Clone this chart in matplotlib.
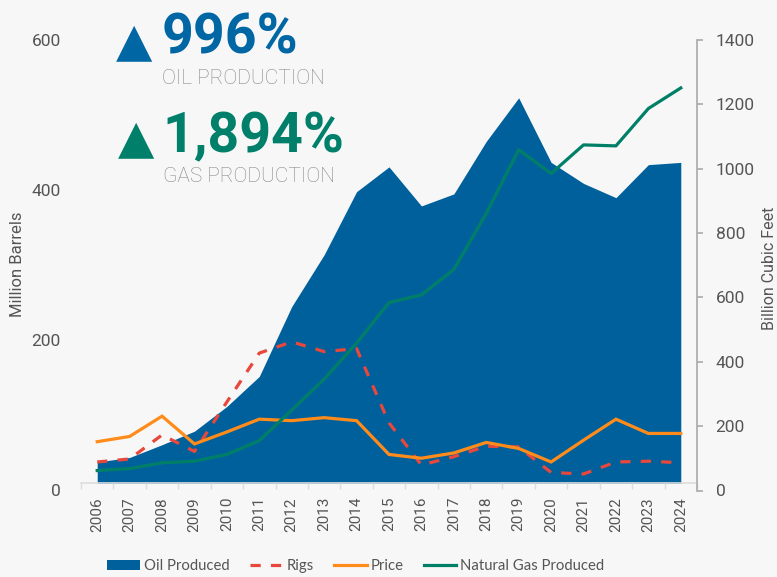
import matplotlib
matplotlib.use("Agg")
import matplotlib.pyplot as plt
from matplotlib.patches import Rectangle
from matplotlib.lines import Line2D
from matplotlib.patches import Patch
import numpy as np

years = [str(y) for y in range(2006, 2025)]
oil_produced = [38, 44, 61, 79, 112, 152, 245, 314, 398, 431, 379, 395, 465, 523, 437, 409, 390, 434, 437]
rigs = [38, 42, 74, 52, 118, 183, 198, 185, 189, 90, 34, 45, 59, 58, 24, 22, 38, 39, 37]
price = [65, 72, 99, 62, 78, 95, 93, 97, 93, 48, 43, 50, 64, 56, 38, 67, 95, 76, 76]
gas_produced = [62, 68, 86, 91, 112, 155, 250, 346, 458, 584, 608, 687, 861, 1059, 985, 1074, 1071, 1187, 1251]
left_ticks = [0, 200, 400, 600]
right_ticks = [0, 200, 400, 600, 800, 1000, 1200, 1400]

BG = "#F7F7F7"
C_OIL = "#00609C"
C_RIGS = "#E8483C"
C_PRICE = "#FF8C1A"
C_GAS = "#007F68"
C_TXT = "#555555"

W, H = 777, 577
fig = plt.figure(figsize=(W / 100, H / 100), dpi=100, facecolor=BG)

def fx(px):
    return px / W

def fy(py):
    return 1 - py / H

ax_left, ax_right, ax_top, ax_bot = 81, 697, 40, 490.5
ax = fig.add_axes([fx(ax_left), fy(ax_bot), (ax_right - ax_left) / W, (ax_bot - ax_top) / H])
ax.set_facecolor("none")
x = np.arange(len(years))

spine_frac = (ax_bot - 483) / (ax_bot - ax_top)

area = ax.fill_between(x, oil_produced, 0, color=C_OIL, lw=0, zorder=1)
area.set_clip_path(Rectangle((0, spine_frac), 1, 1.2, transform=ax.transAxes))
ax.plot(x, rigs, color=C_RIGS, lw=2.3, ls=(0, (3.2, 3.2)), zorder=3)
ax.plot(x, price, color=C_PRICE, lw=2.3, zorder=4, solid_joinstyle="miter")

ax.set_xlim(-0.5, len(years) - 0.5)
ax.set_ylim(0, 600)
ax.set_yticks(left_ticks)
ax.set_yticklabels([str(t) for t in left_ticks])
ax.tick_params(axis="y", length=0, pad=14.5, labelsize=12.5, labelcolor=C_TXT)
for lab in ax.get_yticklabels():
    lab.set_family("Roboto")

for s in ["top", "left", "right"]:
    ax.spines[s].set_visible(False)
ax.spines["bottom"].set_position(("axes", spine_frac))
ax.spines["bottom"].set_color("#DDDDDD")
ax.spines["bottom"].set_linewidth(1.2)

ax.set_xticks(x)
ax.set_xticklabels(years, rotation=90, family="Roboto")
ax.set_xticks(np.arange(-0.5, len(years), 1), minor=True)
ax.tick_params(axis="x", which="major", length=0, pad=10, labelsize=11, labelcolor=C_TXT)
ax.tick_params(axis="x", which="minor", length=4.5, width=1, color="#DDDDDD", direction="out")

ax2 = ax.twinx()
ax2.set_facecolor("none")
ax2.plot(x, gas_produced, color=C_GAS, lw=2.3, zorder=5)
ax2.set_ylim(0, 1400)
ax2.set_yticks(right_ticks)
ax2.set_yticklabels([str(t) for t in right_ticks])
for s in ["top", "left", "bottom"]:
    ax2.spines[s].set_visible(False)
ax2.spines["right"].set_color("#AAAAAA")
ax2.spines["right"].set_linewidth(1.2)
ax2.tick_params(axis="y", length=4.5, width=1.2, color="#AAAAAA", pad=9, labelsize=12.5, labelcolor=C_TXT)
for lab in ax2.get_yticklabels():
    lab.set_family("Roboto")

fig.text(fx(17.5), fy(264), "Million Barrels", rotation=90, ha="center", va="center",
         family="Roboto", fontsize=12, color=C_TXT)
fig.text(fx(769), fy(268), "Billion Cubic Feet", rotation=90, ha="center", va="center",
         family="Roboto", fontsize=11.5, color=C_TXT)

C_BLUE_T = "#0066A4"
C_GREEN_T = "#00806A"
fig.text(fx(116), fy(55), "▲", family="DejaVu Sans", fontsize=34, color=C_BLUE_T, ha="left", va="baseline")
fig.text(fx(162), fy(53), "996%", family="Roboto", fontweight="bold", fontsize=40, color=C_BLUE_T, ha="left", va="baseline")
fig.text(fx(162), fy(84), "OIL PRODUCTION", family="Roboto", fontweight="light", fontsize=15, color="#858585", ha="left", va="baseline")
fig.text(fx(118), fy(152), "▲", family="DejaVu Sans", fontsize=34, color=C_GREEN_T, ha="left", va="baseline")
fig.text(fx(162), fy(152), "1,894%", family="Roboto", fontweight="bold", fontsize=40, color=C_GREEN_T, ha="left", va="baseline")
fig.text(fx(163), fy(182), "GAS PRODUCTION", family="Roboto", fontweight="light", fontsize=15, color="#858585", ha="left", va="baseline")

handles = [
    Patch(facecolor=C_OIL, edgecolor="none"),
    Line2D([], [], color=C_RIGS, lw=2.3, ls=(0, (3.2, 3.2))),
    Line2D([], [], color=C_PRICE, lw=2.3),
    Line2D([], [], color=C_GAS, lw=2.3),
]
labels = ["Oil Produced", "Rigs", "Price", "Natural Gas Produced"]
leg = fig.legend(handles, labels, loc="center", bbox_to_anchor=(fx(356), fy(566)), ncol=4,
                 frameon=False, handlelength=2.2, handletextpad=0.27, columnspacing=1.35,
                 borderaxespad=0, borderpad=0,
                 prop={"family": "Lato", "size": 10.7})
for t in leg.get_texts():
    t.set_color(C_TXT)

fig.savefig("out.png", dpi=100, facecolor=BG)
